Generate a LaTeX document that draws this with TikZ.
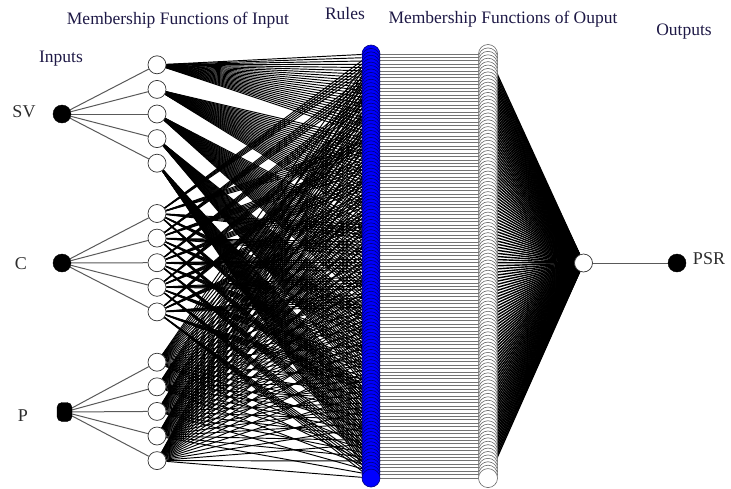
\documentclass[tikz,border=0pt]{standalone}
\usepackage{fontspec}
\setmainfont{Liberation Serif}
\pgfdeclarelayer{bg}
\pgfsetlayers{bg,main}
\definecolor{titlec}{RGB}{30,25,70}
\definecolor{labc}{RGB}{45,45,45}
\definecolor{rulefill}{RGB}{0,0,255}
\definecolor{ruledraw}{RGB}{0,0,120}
\begin{document}
\begin{tikzpicture}[x=1pt,y=-1pt,
  innode/.style={circle,fill=black,draw=black,minimum size=18pt,inner sep=0pt},
  mfnode/.style={circle,fill=white,draw=black!80,line width=0.7pt,minimum size=18pt,inner sep=0pt},
  rulenode/.style={circle,fill=rulefill,draw=ruledraw,line width=0.6pt,minimum size=18pt,inner sep=0pt},
  outmf/.style={circle,fill=white,draw=black!60,line width=0.6pt,minimum size=19pt,inner sep=0pt},
  title/.style={text=titlec,font=\fontsize{17.5}{20}\selectfont,inner sep=0pt},
  lab/.style={text=labc,font=\fontsize{18}{20}\selectfont,inner sep=0pt},
  feed/.style={draw=black!65,line width=1pt},
  ruleedge/.style={draw=black,line width=0.95pt},
  hedge/.style={draw=black!55,line width=1pt},
  fanedge/.style={draw=black,line width=1.4pt}]
\useasboundingbox (0,0) rectangle (731,488);
% titles
\node[title] (t1) at (178,20) {Membership Functions of Input};
\node[title] (t2) at (345,14) {Rules};
\node[title] (t3) at (503,19) {Membership Functions of Ouput};
\node[title] (t4) at (684,32) {Outputs};
\node[title] (t5) at (61,59) {Inputs};
\node[lab] (l1) at (24,112) {SV};
\node[lab] (l2) at (21,264) {C};
\node[lab] (l3) at (23,416) {P};
\node[lab] (l4) at (709,259) {PSR};
% input nodes
\node[innode] (in1) at (62,114) {};
\node[innode] (in2) at (62,263) {};
\node[innode,rectangle,rounded corners=5pt,minimum width=15pt,minimum height=19pt] (in3) at (64.5,412) {};
% input MFs
\foreach \g in {1,2,3}{
  \foreach \k in {1,...,5}{
    \node[mfnode] (m\g-\k) at (157,{114+148.7*(\g-1)+(\k-3)*24.6}) {};
  }
}
% rules and output MFs
\foreach \i in {0,...,124}{
  \node[rulenode] (r\i) at (371,{54+\i*3.42}) {};
}
\foreach \i in {0,...,124}{
  \node[outmf] (o\i) at (488,{54+\i*3.42}) {};
}
\node[mfnode] (out) at (583.5,263) {};
\node[innode] (psr) at (677,263) {};
\begin{pgfonlayer}{bg}
\foreach \g in {1,2,3}{
  \foreach \k in {1,...,5}{
    \draw[feed] (in\g) -- (m\g-\k);
  }
}
\foreach \i in {0,...,124}{
  \pgfmathtruncatemacro\ma{div(\i,25)+1}
  \pgfmathtruncatemacro\mb{mod(div(\i,5),5)+1}
  \pgfmathtruncatemacro\mc{mod(\i,5)+1}
  \draw[ruleedge] (m1-\ma) -- (r\i);
  \draw[ruleedge] (m2-\mb) -- (r\i);
  \draw[ruleedge] (m3-\mc) -- (r\i);
  \draw[hedge] (r\i) -- (o\i);
  \draw[fanedge] (o\i) -- (out);
}
\draw[feed] (out) -- (psr);
\end{pgfonlayer}
\end{tikzpicture}
\end{document}
